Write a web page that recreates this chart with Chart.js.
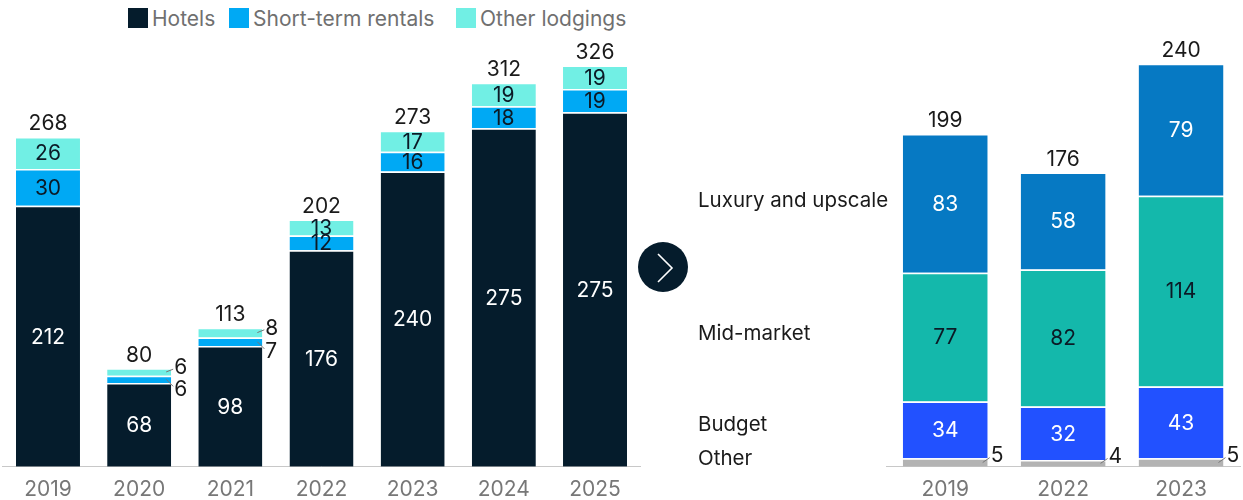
<!DOCTYPE html>
<html><head><meta charset="utf-8">
<script src="https://cdn.jsdelivr.net/npm/chart.js@4.4.1/dist/chart.umd.min.js"></script>
<style>
html,body{margin:0;padding:0;background:#fff;width:1243px;height:500px;overflow:hidden;font-family:Inter,"Liberation Sans",sans-serif;}
#wrapL{position:absolute;left:0;top:0;width:643px;height:500px;}
#wrapR{position:absolute;left:690px;top:0;width:553px;height:500px;}
.lg{position:absolute;top:8px;height:20px;display:flex;align-items:center;font-size:21px;color:#707070;white-space:nowrap;}
.lg i{display:inline-block;width:20px;height:20px;margin-right:4px;}
#arrow{position:absolute;left:638px;top:242px;width:50px;height:50px;border-radius:50%;background:#051C2C;}
</style></head>
<body>
<div id="legend"></div>
<div id="wrapL"><canvas id="left"></canvas></div>
<div id="arrow"><svg width="50" height="50" viewBox="0 0 50 50"><polyline points="20,12 34,26 20,40" fill="none" stroke="#fff" stroke-width="1.6"/></svg></div>
<div id="wrapR"><canvas id="right"></canvas></div>
<script>
// ---- data: left chart ----
const lodgingYears = ['2019','2020','2021','2022','2023','2024','2025'];
const seriesNames = ['Hotels','Short-term rentals','Other lodgings'];
const hotels = [212,68,98,176,240,275,288];
const hotelsLabels = ['212','68','98','176','240','275','275'];
const shortTermRentals = [30,6,7,12,16,18,19];
const otherLodgings = [26,6,8,13,17,19,19];
const lodgingTotals = ['268','80','113','202','273','312','326'];
// ---- data: right chart ----
const segmentYears = ['2019','2022','2023'];
const segmentNames = ['Other','Budget','Mid-market','Luxury and upscale'];
const otherSegment = [5,4,5];
const budget = [34,32,43];
const midMarket = [77,82,114];
const luxury = [83,58,79];
const segmentTotals = ['199','176','240'];

const FONT = 'Inter, "Liberation Sans", sans-serif';
Chart.defaults.font.family = FONT;
Chart.defaults.animation = false;

const C = {hotel:'#051C2C', str:'#00A9F4', oth:'#71EFE4', lux:'#0679C3', mid:'#14B8AB', bud:'#2251FF', segoth:'#B3B3B3'};

// legend
const legendItems = [[seriesNames[0],C.hotel,128],[seriesNames[1],C.str,229],[seriesNames[2],C.oth,456]];
const lg = document.getElementById('legend');
legendItems.forEach(([t,c,x])=>{const d=document.createElement('div');d.className='lg';d.style.left=x+'px';d.innerHTML='<i style="background:'+c+'"></i>'+t;lg.appendChild(d);});

function valuePlugin(opts){
  return {id:'vals'+opts.id, afterDatasetsDraw(chart){
    const ctx = chart.ctx; ctx.save();
    ctx.font = '21px ' + FONT; ctx.textBaseline = 'middle';
    const n = chart.data.datasets.length;
    chart.data.datasets.forEach((ds,d)=>{
      const meta = chart.getDatasetMeta(d);
      meta.data.forEach((el,i)=>{
        const p = el.getProps(['x','y','base','width'], true);
        const h = p.base - p.y, cy = (p.y+p.base)/2, xr = p.x + p.width/2;
        const txt = opts.labels[d][i];
        if (h >= 12) {
          ctx.fillStyle = opts.inside[d]; ctx.textAlign='center';
          ctx.fillText(txt, p.x, cy+1);
        } else {
          const ly = cy + opts.offset[d];
          ctx.strokeStyle = '#777'; ctx.lineWidth = 1;
          ctx.beginPath(); ctx.moveTo(xr-5, cy); ctx.lineTo(xr+2, (cy+ly)/2 + (ly-cy)*0.2); ctx.stroke();
          ctx.fillStyle = '#1a1a1a'; ctx.textAlign='left';
          ctx.fillText(txt, xr+3, ly);
        }
      });
    });
    const top = chart.getDatasetMeta(n-1);
    top.data.forEach((el,i)=>{
      ctx.fillStyle='#1a1a1a'; ctx.textAlign='center';
      ctx.fillText(opts.totals[i], el.x, el.y - 13);
    });
    if (opts.catLabels) {
      ctx.font = '20.5px ' + FONT; ctx.textAlign='left'; ctx.fillStyle='#1a1a1a';
      chart.data.datasets.forEach((ds,d)=>{
        const el = chart.getDatasetMeta(d).data[0];
        const cy = (el.y+el.base)/2;
        ctx.fillText(ds.label, 8, cy + opts.catOffset[d]);
      });
    }
    ctx.restore();
  }};
}

function xAxis(h, pad){
  return {grid:{display:false, drawTicks:false}, border:{display:true,color:'#c8c8c8',width:1},
    ticks:{color:'#777', font:{size:21}, padding:pad, maxRotation:0},
    afterFit:s=>{s.height=h;}};
}
const seg = {borderColor:'#fff', borderWidth:{top:1.5,left:0,right:0,bottom:0}, borderSkipped:false};

new Chart(document.getElementById('left'), {
  type:'bar',
  data:{labels:lodgingYears, datasets:[
    Object.assign({label:seriesNames[0], data:hotels, backgroundColor:C.hotel}, seg),
    Object.assign({label:seriesNames[1], data:shortTermRentals, backgroundColor:C.str}, seg),
    Object.assign({label:seriesNames[2], data:otherLodgings, backgroundColor:C.oth}, seg)
  ]},
  options:{responsive:true, maintainAspectRatio:false,
    layout:{padding:{left:2.4,right:2.4,top:0,bottom:0}},
    datasets:{bar:{barPercentage:0.702, categoryPercentage:1}},
    plugins:{legend:{display:false}, tooltip:{enabled:false}},
    scales:{x:Object.assign({stacked:true}, xAxis(33.3, 10)), y:{stacked:true, display:false, min:0, max:379.3}}
  },
  plugins:[valuePlugin({id:'L', labels:[hotelsLabels, shortTermRentals.map(String), otherLodgings.map(String)],
    inside:['#fff','#0b1a26','#0b1a26'], offset:[0,10,-4], totals:lodgingTotals})]
});

new Chart(document.getElementById('right'), {
  type:'bar',
  data:{labels:segmentYears, datasets:[
    Object.assign({label:segmentNames[0], data:otherSegment, backgroundColor:C.segoth}, seg),
    Object.assign({label:segmentNames[1], data:budget, backgroundColor:C.bud}, seg),
    Object.assign({label:segmentNames[2], data:midMarket, backgroundColor:C.mid}, seg),
    Object.assign({label:segmentNames[3], data:luxury, backgroundColor:C.lux}, seg)
  ]},
  options:{responsive:true, maintainAspectRatio:false,
    layout:{padding:{left:196.3,right:3,top:0,bottom:0}},
    datasets:{bar:{barPercentage:0.72, categoryPercentage:1}},
    plugins:{legend:{display:false}, tooltip:{enabled:false}},
    scales:{x:Object.assign({stacked:true}, xAxis(33.3, 10)), y:{stacked:true, display:false, min:0, max:279.1}}
  },
  plugins:[valuePlugin({id:'R', labels:[otherSegment.map(String), budget.map(String), midMarket.map(String), luxury.map(String)],
    inside:['#1a1a1a','#fff','#0b1a26','#fff'], offset:[-7,0,0,0], totals:segmentTotals,
    catLabels:true, catOffset:[-4,-5,-3,-2]})]
});
</script>
</body></html>
